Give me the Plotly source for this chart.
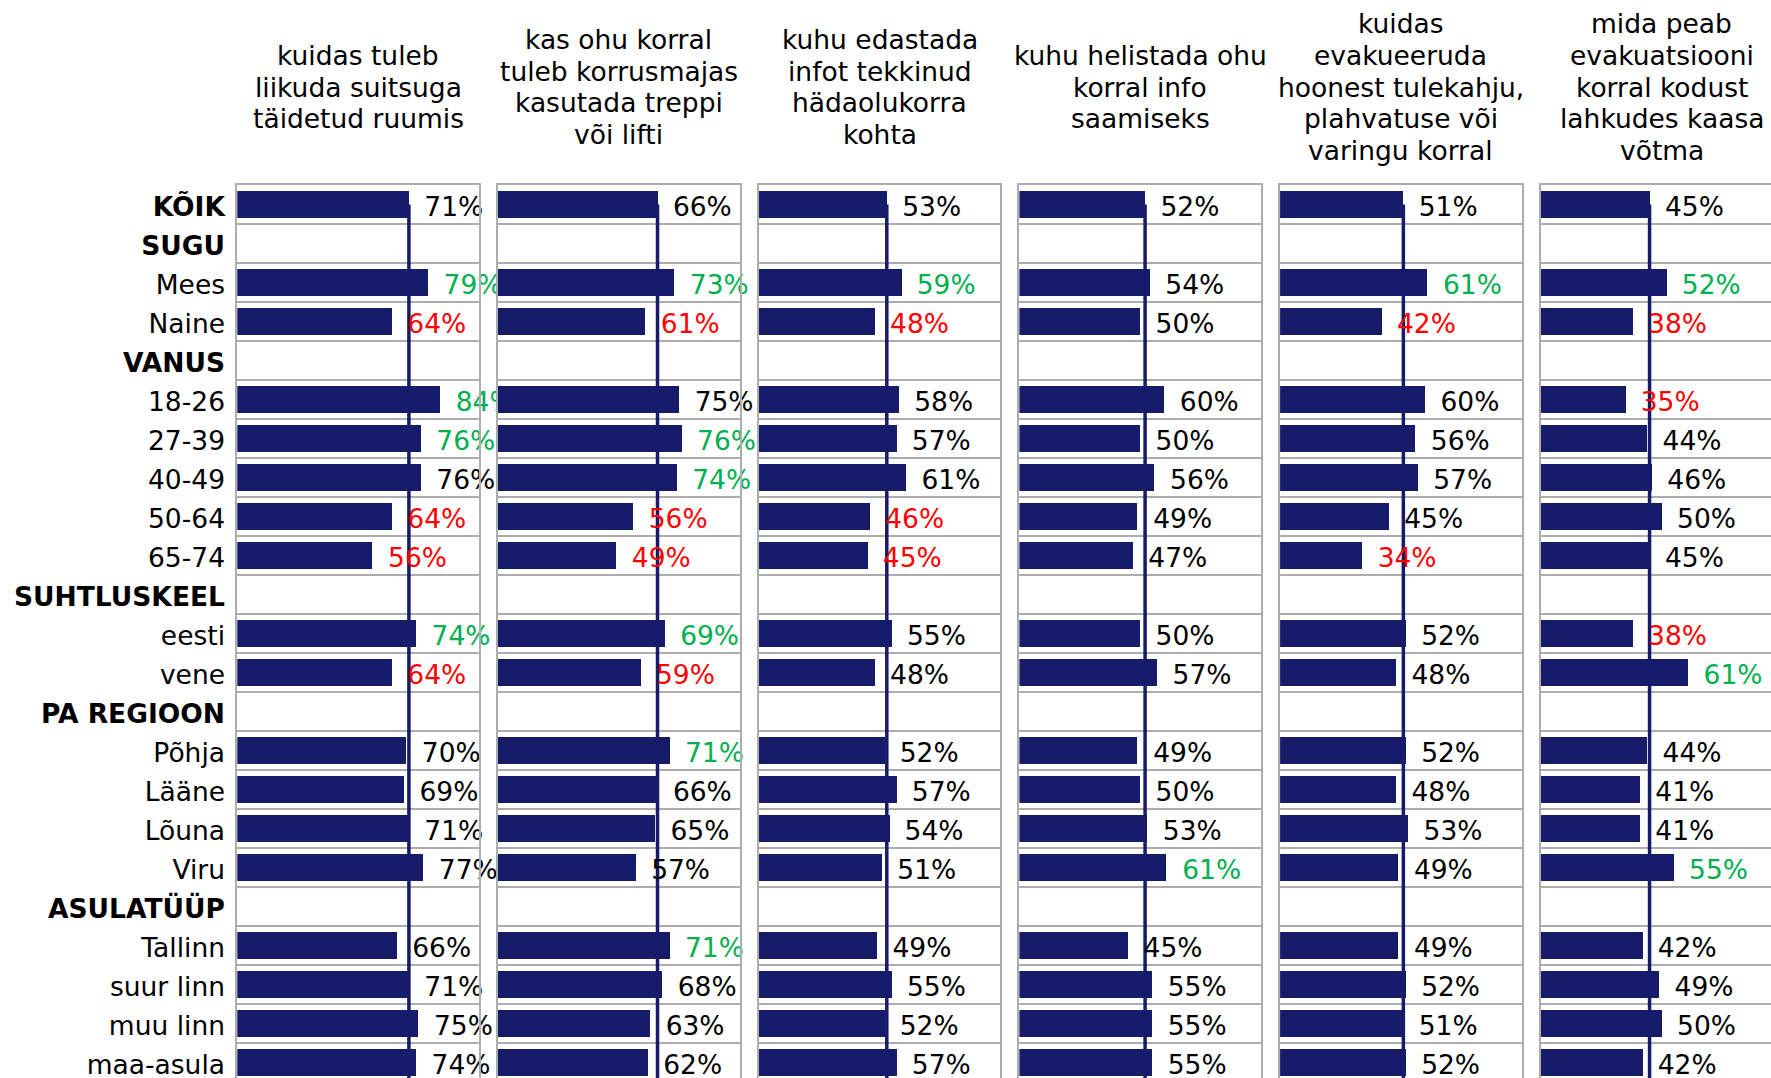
import plotly.graph_objects as go

# ---- data -----------------------------------------------------------------
categories = ["KÕIK", "SUGU", "Mees", "Naine", "VANUS", "18-26", "27-39", "40-49",
              "50-64", "65-74", "SUHTLUSKEEL", "eesti", "vene", "PA REGIOON",
              "Põhja", "Lääne", "Lõuna", "Viru", "ASULATÜÜP", "Tallinn",
              "suur linn", "muu linn", "maa-asula"]
bold_rows = ["KÕIK", "SUGU", "VANUS", "SUHTLUSKEEL", "PA REGIOON", "ASULATÜÜP"]

titles = [
    ["kuidas tuleb", "liikuda suitsuga", "täidetud ruumis"],
    ["kas ohu korral", "tuleb korrusmajas", "kasutada treppi", "või lifti"],
    ["kuhu edastada", "infot tekkinud", "hädaolukorra", "kohta"],
    ["kuhu helistada ohu", "korral info", "saamiseks"],
    ["kuidas", "evakueeruda", "hoonest tulekahju,", "plahvatuse või", "varingu korral"],
    ["mida peab", "evakuatsiooni", "korral kodust", "lahkudes kaasa", "võtma"],
]

# share of respondents (%) per topic; None = group heading row
v1 = [71, None, 79, 64, None, 84, 76, 76, 64, 56, None, 74, 64, None, 70, 69, 71, 77, None, 66, 71, 75, 74]
v2 = [66, None, 73, 61, None, 75, 76, 74, 56, 49, None, 69, 59, None, 71, 66, 65, 57, None, 71, 68, 63, 62]
v3 = [53, None, 59, 48, None, 58, 57, 61, 46, 45, None, 55, 48, None, 52, 57, 54, 51, None, 49, 55, 52, 57]
v4 = [52, None, 54, 50, None, 60, 50, 56, 49, 47, None, 50, 57, None, 49, 50, 53, 61, None, 45, 55, 55, 55]
v5 = [51, None, 61, 42, None, 60, 56, 57, 45, 34, None, 52, 48, None, 52, 48, 53, 49, None, 49, 52, 51, 52]
v6 = [45, None, 52, 38, None, 35, 44, 46, 50, 45, None, 38, 61, None, 44, 41, 41, 55, None, 42, 49, 50, 42]

# "+" significantly above the total, "-" significantly below
s1 = ["", "", "+", "-", "", "+", "+", "", "-", "-", "", "+", "-", "", "", "", "", "", "", "", "", "", ""]
s2 = ["", "", "+", "-", "", "", "+", "+", "-", "-", "", "+", "-", "", "+", "", "", "", "", "+", "", "", ""]
s3 = ["", "", "+", "-", "", "", "", "", "-", "-", "", "", "", "", "", "", "", "", "", "", "", "", ""]
s4 = ["", "", "", "", "", "", "", "", "", "", "", "", "", "", "", "", "", "+", "", "", "", "", ""]
s5 = ["", "", "+", "-", "", "", "", "", "", "-", "", "", "", "", "", "", "", "", "", "", "", "", ""]
s6 = ["", "", "+", "-", "", "-", "", "", "", "", "", "-", "+", "", "", "", "", "+", "", "", "", "", ""]

series = [v1, v2, v3, v4, v5, v6]
signif = [s1, s2, s3, s4, s5, s6]

# ---- styling / geometry ---------------------------------------------------
W, H = 1771, 1078
TOP = 184.5            # top edge of the panels
ROW = 39.02            # row pitch in px
PANEL_LEFT0 = 237.3
PANEL_PITCH = 260.7
PANEL_W = 241.7
NAVY = "#161B6A"
GRID = "#ADADAD"
FONT = "DejaVu Sans"
FS = 26.5
LABEL_DROP = 4.5 / ROW   # value labels sit slightly below the bar centre
SIG_COLOR = {"+": "#00B050", "-": "#FF0000", "": "#000000"}

fig = go.Figure()

y_bottom = -0.5 + (H - TOP) / ROW
n = len(categories)

for k, (vals, sig) in enumerate(zip(series, signif)):
    idx = "" if k == 0 else str(k + 1)
    xa, ya = "x" + idx, "y" + idx
    rows = [i for i, v in enumerate(vals) if v is not None]
    xs = [vals[i] for i in rows]

    fig.add_trace(go.Bar(
        x=xs, y=rows, orientation="h", width=0.7,
        marker=dict(color=NAVY, line=dict(width=0)),
        xaxis=xa, yaxis=ya, showlegend=False, hoverinfo="skip"))

    # reference line at the total (KÕIK) value
    fig.add_trace(go.Scatter(
        x=[vals[0], vals[0]], y=[0, n], mode="lines",
        line=dict(color=NAVY, width=3.5),
        xaxis=xa, yaxis=ya, showlegend=False, hoverinfo="skip"))

    # value labels
    fig.add_trace(go.Scatter(
        x=xs, y=[i + LABEL_DROP for i in rows], mode="markers+text",
        text=[f"{v}%" for v in xs],
        textposition="middle right",
        textfont=dict(family=FONT, size=FS, color=[SIG_COLOR[sig[i]] for i in rows]),
        marker=dict(size=23, color="rgba(0,0,0,0)"),
        cliponaxis=False,
        xaxis=xa, yaxis=ya, showlegend=False, hoverinfo="skip"))

    left = PANEL_LEFT0 + k * PANEL_PITCH
    right = min(left + PANEL_W, W)
    last = right >= W

    fig.update_layout({
        ("xaxis" + idx): dict(
            domain=[left / W, right / W],
            range=[0, (right - left) / PANEL_W * 100],
            side="top", showline=True, linecolor=GRID, linewidth=2,
            showgrid=False, zeroline=False, showticklabels=False, ticks="",
            fixedrange=True, automargin=False,
            anchor=ya),
        ("yaxis" + idx): dict(
            domain=[0, 1],
            range=[y_bottom, -0.5],
            showline=True, mirror=not last, linecolor=GRID, linewidth=2,
            showgrid=False, zeroline=False, ticks="",
            tickmode="array", tickvals=list(range(n)),
            ticktext=[f"<b>{c}</b>" if c in bold_rows else c for c in categories],
            showticklabels=(k == 0),
            ticklabelstandoff=5,
            ticklabelshift=-2,
            ticklabeloverflow="allow",
            tickfont=dict(family=FONT, size=FS, color="#000000"),
            minor=dict(tickmode="array", tickvals=[i + 0.5 for i in range(n - 1)],
                       showgrid=True, gridcolor=GRID, gridwidth=2, ticks=""),
            fixedrange=True, automargin=False,
            anchor=xa),
    })

    # column heading, one annotation per line, centred over the panel
    lines = titles[k]
    cx = (left + PANEL_W / 2) / W
    for j, line in enumerate(lines):
        baseline = 95.7 + (j - (len(lines) - 1) / 2) * 31.8
        py = baseline - 9.2
        fig.add_annotation(
            text=line, xref="paper", yref="paper",
            x=cx, y=(H - py) / (H - TOP),
            xanchor="center", yanchor="middle", showarrow=False,
            font=dict(family=FONT, size=FS, color="#000000"))

fig.update_layout(
    width=W, height=H,
    margin=dict(l=0, r=0, t=TOP, b=0, pad=0),
    paper_bgcolor="white", plot_bgcolor="white",
    bargap=0, showlegend=False,
    font=dict(family=FONT, size=FS, color="#000000"),
)

fig.write_html("out.html", config={"displayModeBar": False})
